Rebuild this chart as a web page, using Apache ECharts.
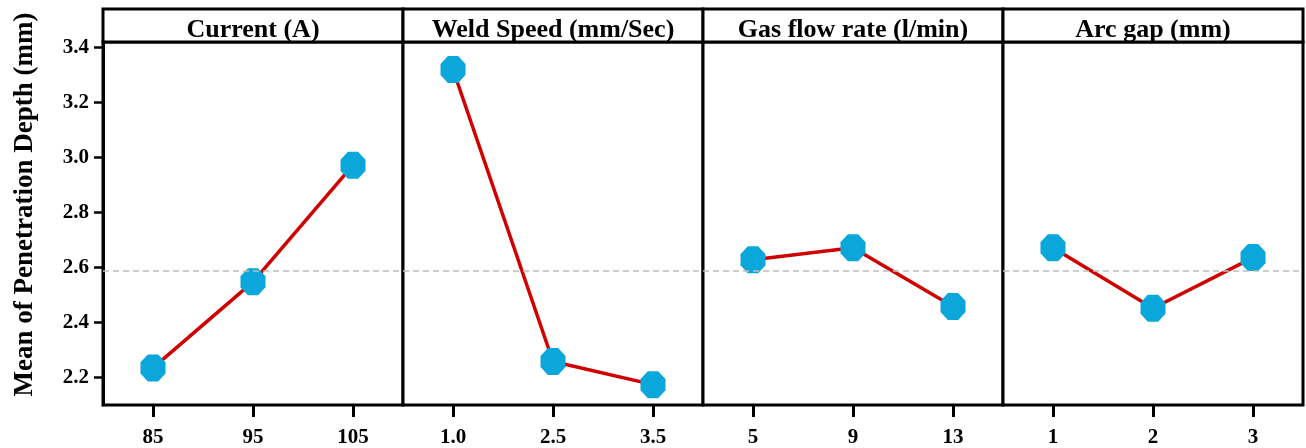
<!DOCTYPE html>
<html style="height:100%">
<head>
    <meta charset="UTF-8">
    <title>Main effects plot</title>
    <script src="https://cdn.jsdelivr.net/npm/echarts@6/dist/echarts.min.js"></script>
</head>
<body style="height:100%;margin:0">
<div id="main" style="width:1306px;height:448px"></div>
<script>
    // factors and their levels
    var factors = ['Current (A)', 'Weld Speed (mm/Sec)', 'Gas flow rate (l/min)', 'Arc gap (mm)'];
    var currentLevels = ['85', '95', '105'];
    var speedLevels = ['1.0', '2.5', '3.5'];
    var gasLevels = ['5', '9', '13'];
    var gapLevels = ['1', '2', '3'];

    // mean penetration depth per level
    var currentMeans = [2.235, 2.548, 2.972];
    var speedMeans = [3.32, 2.258, 2.174];
    var gasMeans = [2.628, 2.672, 2.458];
    var gapMeans = [2.672, 2.452, 2.636];
    var overallMean = 2.59;

    var yTicks = [2.2, 2.4, 2.6, 2.8, 3.0, 3.2, 3.4];

    var levels = [currentLevels, speedLevels, gasLevels, gapLevels];
    var means = [currentMeans, speedMeans, gasMeans, gapMeans];

    var chart = echarts.init(document.getElementById('main'), null, { renderer: 'canvas' });

    var font = '"Liberation Serif", "Times New Roman", serif';
    var left0 = 103, panelW = 300, top0 = 42, bottom0 = 43, headTop = 9;
    var octagon = 'path://M-0.41,-1L0.41,-1L1,-0.41L1,0.41L0.41,1L-0.41,1L-1,0.41L-1,-0.41Z';

    var grids = [], xAxes = [], yAxes = [], series = [], graphics = [];
    for (var i = 0; i < factors.length; i++) {
        grids.push({
            left: left0 + panelW * i, top: top0, width: panelW, bottom: bottom0,
            show: true, borderColor: '#000', borderWidth: 3, backgroundColor: '#fff'
        });
        xAxes.push({
            type: 'category', gridIndex: i, data: levels[i], boundaryGap: true,
            axisLine: { show: false },
            axisTick: { show: true, alignWithLabel: true, length: 12, lineStyle: { color: '#000', width: 3 } },
            axisLabel: { margin: 22, color: '#000', fontFamily: font, fontWeight: 'bold', fontSize: 21 },
            splitLine: { show: false }
        });
        yAxes.push({
            type: 'value', gridIndex: i, min: 2.1, max: 3.42,
            name: i === 0 ? 'Mean of Penetration Depth (mm)' : '',
            nameLocation: 'middle', nameGap: 64,
            nameTextStyle: { color: '#000', fontFamily: font, fontWeight: 'bold', fontSize: 27, padding: [0, 0, 0, 38] },
            axisLine: { show: i === 0, lineStyle: { color: '#000', width: 3 } },
            axisTick: { show: i === 0, length: 9, customValues: yTicks, lineStyle: { color: '#000', width: 2.5 } },
            axisLabel: {
                show: i === 0, margin: 14, customValues: yTicks, color: '#000',
                fontFamily: font, fontWeight: 'bold', fontSize: 21,
                formatter: function (v) { return v.toFixed(1); }
            },
            splitLine: { show: false }
        });
        series.push({
            type: 'line', xAxisIndex: i, yAxisIndex: i, data: means[i],
            symbol: octagon, symbolSize: [25, 27],
            itemStyle: { color: '#0ba6da' },
            lineStyle: { color: '#d10000', width: 3.5 },
            markLine: {
                silent: true, symbol: 'none', label: { show: false },
                lineStyle: { color: '#bdbdbd', type: [6, 4], width: 1.5 },
                data: [{ yAxis: overallMean }]
            },
            z: 3
        });
        graphics.push({
            type: 'rect',
            shape: { x: left0 + panelW * i, y: headTop, width: panelW, height: top0 - headTop },
            style: { fill: '#fff', stroke: '#000', lineWidth: 3 }
        });
        graphics.push({
            type: 'text',
            x: left0 + panelW * i + panelW / 2, y: 30,
            style: {
                text: factors[i], fill: '#000', align: 'center', verticalAlign: 'middle',
                font: 'bold 26px ' + font
            }
        });
    }

    var option = {
        backgroundColor: '#fff',
        animation: false,
        grid: grids,
        xAxis: xAxes,
        yAxis: yAxes,
        series: series,
        graphic: graphics
    };
    chart.setOption(option);
</script>
</body>
</html>
